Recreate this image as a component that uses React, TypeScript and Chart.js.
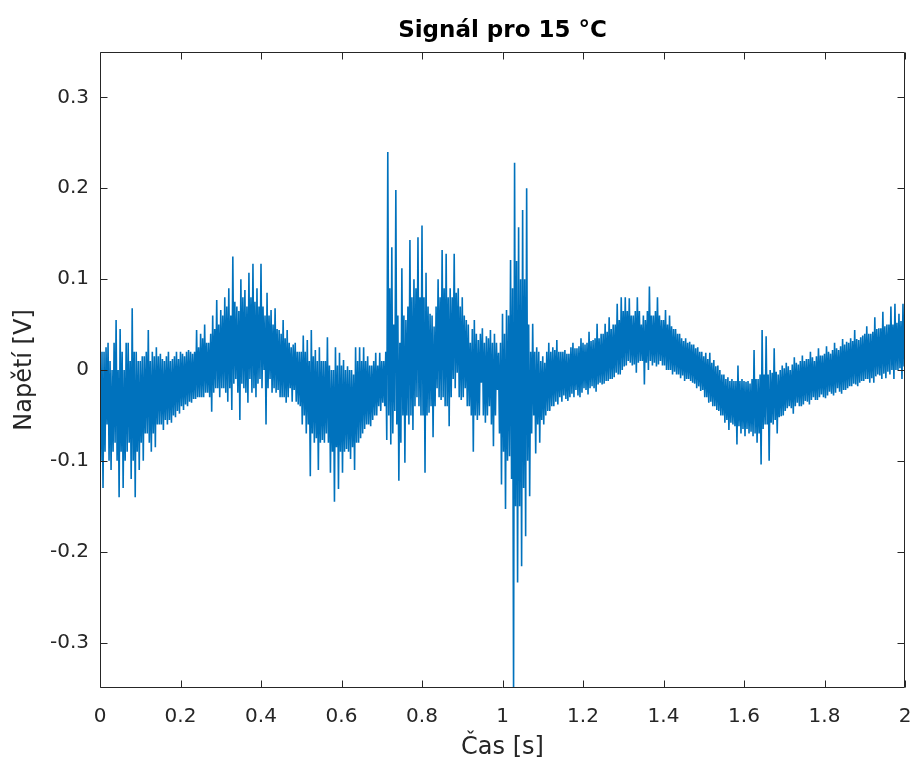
import React, { useEffect, useRef } from "react";
import { Chart, registerables } from "chart.js";

Chart.register(...registerables);

const chartTitle = "Signál pro 15 °C";
const xAxisLabel = "Čas [s]";
const yAxisLabel = "Napětí [V]";

// the signal is given as max / min of each 5 ms window
const windowLength = 0.005; // s

// upper envelope (maximum voltage in each 5 ms window) [V]
const voltageMax = [
  0.03, 0.02, 0.02, 0.025, 0.03, 0.01, 0.0, 0.03, 0.055, 0.0,
  0.045, 0.02, 0.0, 0.03, 0.03, 0.01, 0.068, 0.02, 0.02, 0.01,
  0.01, 0.015, 0.015, 0.02, 0.044, 0.01, 0.02, 0.015, 0.025, 0.015,
  0.018, 0.012, 0.01, 0.015, 0.02, 0.01, 0.012, 0.015, 0.02, 0.012,
  0.02, 0.018, 0.015, 0.02, 0.022, 0.02, 0.018, 0.02, 0.044, 0.025,
  0.04, 0.035, 0.05, 0.03, 0.03, 0.04, 0.06, 0.045, 0.077, 0.05,
  0.066, 0.06, 0.08, 0.07, 0.09, 0.06, 0.125, 0.075, 0.07, 0.065,
  0.1, 0.08, 0.088, 0.07, 0.107, 0.08, 0.117, 0.075, 0.09, 0.07,
  0.117, 0.07, 0.06, 0.085, 0.06, 0.066, 0.05, 0.068, 0.045, 0.044,
  0.04, 0.055, 0.035, 0.044, 0.03, 0.025, 0.028, 0.03, 0.02, 0.02,
  0.02, 0.038, 0.02, 0.033, 0.01, 0.044, 0.015, 0.022, 0.01, 0.025,
  0.01, 0.01, 0.01, 0.036, 0.005, 0.0, 0.0, 0.025, 0.005, 0.019,
  0.005, 0.011, 0.0, 0.004, 0.0, 0.0, -0.005, 0.025, 0.01, 0.025,
  0.01, 0.025, 0.01, 0.015, 0.005, 0.005, 0.01, 0.019, 0.005, 0.019,
  0.01, 0.01, 0.02, 0.24, 0.09, 0.135, 0.05, 0.198, 0.06, 0.03,
  0.112, 0.06, 0.055, 0.07, 0.143, 0.08, 0.1, 0.09, 0.146, 0.08,
  0.159, 0.08, 0.107, 0.07, 0.062, 0.06, 0.048, 0.07, 0.1, 0.08,
  0.132, 0.09, 0.128, 0.08, 0.09, 0.08, 0.128, 0.085, 0.09, 0.07,
  0.08, 0.06, 0.055, 0.05, 0.03, 0.045, 0.055, 0.04, 0.033, 0.04,
  0.046, 0.03, 0.037, 0.035, 0.044, 0.03, 0.04, 0.03, 0.019, 0.03,
  0.062, 0.04, 0.066, 0.06, 0.121, 0.09, 0.228, 0.12, 0.157, 0.1,
  0.176, 0.1, 0.2, 0.05, 0.02, 0.051, 0.02, 0.025, 0.02, 0.01,
  0.015, 0.008, 0.02, 0.03, 0.02, 0.025, 0.022, 0.033, 0.02, 0.02,
  0.02, 0.022, 0.018, 0.018, 0.025, 0.03, 0.024, 0.024, 0.026, 0.035,
  0.03, 0.028, 0.03, 0.042, 0.032, 0.033, 0.035, 0.051, 0.035, 0.04,
  0.04, 0.051, 0.042, 0.058, 0.045, 0.05, 0.05, 0.073, 0.055, 0.08,
  0.065, 0.08, 0.065, 0.079, 0.06, 0.06, 0.065, 0.08, 0.065, 0.05,
  0.06, 0.055, 0.065, 0.092, 0.06, 0.06, 0.065, 0.08, 0.06, 0.055,
  0.055, 0.066, 0.05, 0.06, 0.048, 0.045, 0.045, 0.04, 0.04, 0.035,
  0.032, 0.035, 0.03, 0.031, 0.028, 0.028, 0.024, 0.025, 0.02, 0.02,
  0.015, 0.019, 0.012, 0.019, 0.008, 0.011, 0.004, 0.005, 0.0, -0.005,
  -0.005, -0.01, -0.008, -0.012, -0.01, -0.012, -0.012, 0.005, -0.012, -0.01,
  -0.012, -0.013, -0.012, -0.015, -0.01, 0.022, -0.01, -0.01, -0.005, 0.044,
  -0.005, 0.037, -0.005, 0.0, -0.003, 0.024, -0.002, -0.005, 0.0, 0.005,
  0.002, 0.008, 0.004, 0.0, 0.006, 0.014, 0.008, 0.006, 0.01, 0.016,
  0.01, 0.012, 0.012, 0.02, 0.014, 0.01, 0.015, 0.024, 0.016, 0.016,
  0.018, 0.026, 0.02, 0.018, 0.022, 0.03, 0.024, 0.022, 0.026, 0.034,
  0.028, 0.031, 0.03, 0.035, 0.032, 0.044, 0.034, 0.033, 0.036, 0.038,
  0.04, 0.048, 0.04, 0.04, 0.042, 0.058, 0.045, 0.046, 0.046, 0.064,
  0.048, 0.05, 0.05, 0.07, 0.05, 0.073, 0.052, 0.062, 0.054, 0.073,
  0.05,
];

// lower envelope (minimum voltage in each 5 ms window) [V]
const voltageMin = [
  -0.1, -0.13, -0.09, -0.06, -0.1, -0.11, -0.09, -0.08, -0.1, -0.14,
  -0.09, -0.13, -0.1, -0.09, -0.08, -0.12, -0.1, -0.14, -0.09, -0.11,
  -0.08, -0.1, -0.07, -0.07, -0.08, -0.09, -0.07, -0.085, -0.06, -0.06,
  -0.06, -0.066, -0.055, -0.06, -0.055, -0.058, -0.05, -0.052, -0.045, -0.048,
  -0.04, -0.044, -0.038, -0.04, -0.035, -0.036, -0.032, -0.032, -0.03, -0.03,
  -0.03, -0.03, -0.025, -0.025, -0.03, -0.046, -0.025, -0.02, -0.02, -0.03,
  -0.02, -0.02, -0.025, -0.035, -0.02, -0.044, -0.015, -0.01, -0.025, -0.055,
  -0.015, -0.02, -0.025, -0.036, -0.01, -0.025, -0.02, -0.03, -0.015, -0.01,
  -0.02, 0.0, -0.06, -0.02, -0.01, -0.025, -0.02, -0.025, -0.022, -0.03,
  -0.03, -0.03, -0.036, -0.03, -0.02, -0.035, -0.022, -0.035, -0.038, -0.04,
  -0.06, -0.05, -0.07, -0.06, -0.117, -0.07, -0.08, -0.075, -0.11, -0.08,
  -0.077, -0.08, -0.07, -0.08, -0.113, -0.09, -0.145, -0.085, -0.131, -0.09,
  -0.113, -0.09, -0.087, -0.09, -0.098, -0.085, -0.11, -0.08, -0.08, -0.075,
  -0.07, -0.065, -0.06, -0.06, -0.062, -0.055, -0.05, -0.05, -0.04, -0.045,
  -0.036, -0.04, -0.077, -0.05, -0.082, -0.07, -0.045, -0.06, -0.122, -0.08,
  -0.05, -0.102, -0.05, -0.06, -0.05, -0.066, -0.04, -0.03, -0.04, -0.05,
  -0.05, -0.113, -0.05, -0.047, -0.04, -0.074, -0.04, -0.02, -0.03, -0.033,
  -0.03, -0.04, -0.04, -0.062, -0.03, -0.01, -0.02, -0.003, -0.03, -0.033,
  -0.03, -0.02, -0.04, -0.04, -0.05, -0.09, -0.05, -0.055, -0.05, -0.014,
  -0.05, -0.058, -0.05, -0.04, -0.06, -0.084, -0.05, -0.022, -0.07, -0.126,
  -0.09, -0.153, -0.1, -0.095, -0.12, -0.35, -0.15, -0.234, -0.15, -0.216,
  -0.13, -0.183, -0.1, -0.139, -0.07, -0.05, -0.092, -0.06, -0.08, -0.055,
  -0.06, -0.05, -0.045, -0.045, -0.04, -0.04, -0.035, -0.038, -0.03, -0.035,
  -0.028, -0.032, -0.034, -0.03, -0.026, -0.03, -0.022, -0.028, -0.03, -0.025,
  -0.02, -0.022, -0.027, -0.02, -0.018, -0.02, -0.024, -0.016, -0.014, -0.016,
  -0.015, -0.012, -0.012, -0.01, -0.01, -0.008, -0.003, -0.005, -0.005, 0.0,
  0.004, 0.005, 0.01, 0.008, 0.005, 0.006, -0.003, 0.008, 0.01, 0.01,
  -0.016, 0.008, 0.0, 0.01, 0.005, 0.008, 0.004, 0.006, 0.01, 0.005,
  0.005, 0.0, 0.0, 0.0, -0.005, -0.002, -0.005, -0.005, -0.009, -0.006,
  -0.012, -0.01, -0.01, -0.012, -0.014, -0.015, -0.02, -0.018, -0.023, -0.022,
  -0.03, -0.03, -0.036, -0.035, -0.04, -0.04, -0.044, -0.045, -0.05, -0.05,
  -0.058, -0.055, -0.066, -0.058, -0.06, -0.062, -0.082, -0.062, -0.07, -0.065,
  -0.073, -0.065, -0.07, -0.068, -0.073, -0.07, -0.08, -0.07, -0.104, -0.065,
  -0.06, -0.06, -0.1, -0.058, -0.06, -0.055, -0.07, -0.052, -0.051, -0.05,
  -0.045, -0.042, -0.04, -0.042, -0.048, -0.04, -0.036, -0.04, -0.04, -0.038,
  -0.034, -0.035, -0.038, -0.033, -0.03, -0.033, -0.033, -0.03, -0.027, -0.03,
  -0.031, -0.028, -0.024, -0.026, -0.028, -0.025, -0.02, -0.024, -0.026, -0.022,
  -0.022, -0.02, -0.018, -0.018, -0.015, -0.016, -0.018, -0.014, -0.012, -0.012,
  -0.01, -0.01, -0.014, -0.009, -0.014, -0.007, -0.005, -0.006, -0.01, -0.004,
  -0.009, -0.002, -0.005, 0.0, -0.01, 0.0, 0.0, 0.002, -0.01, 0.004,
  0.033,
];

const xRange = [0, 2];
const yRange = [-0.35, 0.35];
const xTickValues = [0, 0.2, 0.4, 0.6, 0.8, 1, 1.2, 1.4, 1.6, 1.8, 2];
const xTickLabels = ["0", "0.2", "0.4", "0.6", "0.8", "1", "1.2", "1.4", "1.6", "1.8", "2"];
const yTickValues = [-0.3, -0.2, -0.1, 0, 0.1, 0.2, 0.3];
const yTickLabels = ["-0.3", "-0.2", "-0.1", "0", "0.1", "0.2", "0.3"];

const axisColor = "#262626";
const lineColor = "#0072BD";
const fontFamily = "'DejaVu Sans', sans-serif";

const boxPlugin = {
  id: "matlabBox",
  afterDraw(chart: any) {
    const { ctx, chartArea, scales } = chart;
    const L = Math.round(chartArea.left) + 0.5;
    const R = Math.round(chartArea.right) - 0.5;
    const T = Math.round(chartArea.top) + 0.5;
    const B = Math.round(chartArea.bottom) - 0.5;
    const tickLen = 7;
    ctx.save();
    ctx.strokeStyle = axisColor;
    ctx.lineWidth = 1;
    ctx.beginPath();
    ctx.rect(L, T, R - L, B - T);
    xTickValues.forEach((v) => {
      const px = Math.round(scales.x.getPixelForValue(v)) + 0.5;
      ctx.moveTo(px, B);
      ctx.lineTo(px, B - tickLen);
      ctx.moveTo(px, T);
      ctx.lineTo(px, T + tickLen);
    });
    yTickValues.forEach((v) => {
      const py = Math.round(scales.y.getPixelForValue(v)) + 0.5;
      ctx.moveTo(L, py);
      ctx.lineTo(L + tickLen, py);
      ctx.moveTo(R, py);
      ctx.lineTo(R - tickLen, py);
    });
    ctx.stroke();
    ctx.restore();
  },
};

export default function App() {
  const canvasRef = useRef<HTMLCanvasElement | null>(null);

  useEffect(() => {
    const canvas = canvasRef.current;
    if (!canvas) return;
    const points: { x: number; y: number }[] = [];
    voltageMax.forEach((hi, i) => {
      const t = i * windowLength;
      points.push({ x: Number(t.toFixed(4)), y: hi });
      points.push({ x: Number((t + windowLength / 2).toFixed(5)), y: voltageMin[i] });
    });
    const tickFont = { family: fontFamily, size: 20 };
    const labelFont = { family: fontFamily, size: 24, lineHeight: 1.2 };

    const chart = new Chart(canvas, {
      type: "line",
      data: {
        datasets: [
          {
            data: points,
            borderColor: lineColor,
            borderWidth: 1.6,
            pointRadius: 0,
            tension: 0,
            fill: false,
          },
        ],
      },
      options: {
        animation: false,
        responsive: false,
        events: [],
        layout: { padding: { left: 0, right: 8, top: 0, bottom: 0 } },
        plugins: {
          legend: { display: false },
          tooltip: { enabled: false },
          title: {
            display: true,
            fullSize: false,
            text: chartTitle,
            color: "#000000",
            font: { family: fontFamily, size: 23, weight: "bold", lineHeight: 1.2 },
            padding: { top: 17, bottom: 7.4 },
          },
        },
        scales: {
          x: {
            type: "linear",
            min: xRange[0],
            max: xRange[1],
            afterBuildTicks: (scale: any) => {
              scale.ticks = xTickValues.map((v) => ({ value: v }));
            },
            afterFit: (scale: any) => {
              scale.height = 81;
              scale.paddingLeft = 0;
              scale.paddingRight = 0;
            },
            ticks: {
              autoSkip: false,
              maxRotation: 0,
              minRotation: 0,
              padding: 17,
              color: axisColor,
              font: tickFont,
              callback: (value: any) => xTickLabels[xTickValues.indexOf(Number(value))] ?? "",
            },
            grid: { display: false, drawTicks: false },
            border: { display: false },
            title: {
              display: true,
              text: xAxisLabel,
              color: axisColor,
              font: labelFont,
              padding: { top: 0, bottom: 7 },
            },
          },
          y: {
            type: "linear",
            min: yRange[0],
            max: yRange[1],
            afterBuildTicks: (scale: any) => {
              scale.ticks = yTickValues.map((v) => ({ value: v }));
            },
            afterFit: (scale: any) => {
              scale.width = 100;
              scale.paddingTop = 0;
              scale.paddingBottom = 0;
            },
            ticks: {
              autoSkip: false,
              padding: 11,
              color: axisColor,
              font: tickFont,
              callback: (value: any) => yTickLabels[yTickValues.indexOf(Number(value))] ?? "",
            },
            grid: { display: false, drawTicks: false },
            border: { display: false },
            title: {
              display: true,
              text: yAxisLabel,
              color: axisColor,
              font: labelFont,
              padding: { top: 10, bottom: 0 },
            },
          },
        },
      } as any,
      plugins: [boxPlugin],
    });

    return () => {
      chart.destroy();
    };
  }, []);

  return (
    <div
      style={{
        position: "fixed",
        left: 0,
        top: 0,
        width: 913,
        height: 769,
        background: "#ffffff",
      }}
    >
      <canvas ref={canvasRef} width={913} height={769} style={{ display: "block" }} />
    </div>
  );
}
